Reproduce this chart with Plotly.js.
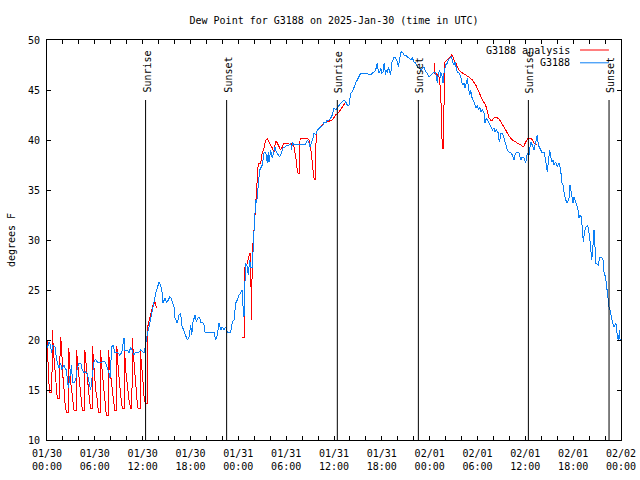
<!DOCTYPE html>
<html><head><meta charset="utf-8">
<script src="https://cdn.plot.ly/plotly-3.0.1.min.js"></script>
<style>html,body{margin:0;padding:0;background:#fff}#chart{width:640px;height:480px}
#chart path.js-line{shape-rendering:crispEdges}</style>
</head><body><div id="chart"></div>
<script>
const startTime = '2025-01-30T00:00:00Z';

// G3188 observations: hours after 01/30 00:00 UTC, dew point (F)
const blueHours = [
0.04,0.25,0.46,0.54,0.75,1.0,1.09,1.29,1.51,1.72,
1.84,2.13,2.26,2.42,2.55,2.67,2.85,2.97,3.1,3.17,
3.39,3.6,3.8,4.01,4.23,4.43,4.64,4.85,5.06,5.27,
5.48,5.68,5.9,6.1,6.31,6.52,6.74,6.94,7.15,7.36,
7.56,7.78,7.9,8.12,8.28,8.53,8.7,8.95,9.12,9.37,
9.66,9.78,10.07,10.29,10.5,10.7,10.91,11.13,11.54,11.75,
11.95,12.17,12.29,12.46,12.63,12.79,13.0,13.21,13.42,13.64,
13.84,14.05,14.26,14.46,14.55,14.8,14.97,15.22,15.39,15.59,
15.72,15.93,16.06,16.34,16.56,16.77,16.9,17.1,17.31,17.6,
17.81,18.03,18.15,18.31,18.57,18.73,18.98,19.15,19.28,19.48,
19.69,19.82,20.32,20.95,21.16,21.36,21.58,21.79,21.99,22.2,
22.42,22.62,23.04,23.24,23.46,23.67,23.87,24.08,24.29,24.5,
24.59,24.71,24.8,24.92,25.13,25.25,25.42,25.55,25.75,25.84,
25.97,26.09,26.18,26.3,26.43,26.59,26.68,26.8,27.01,27.22,
27.43,27.63,27.76,27.85,28.06,28.26,28.47,28.6,28.76,29.01,
29.19,29.44,29.6,29.86,30.14,30.36,30.57,30.69,30.77,30.98,
31.2,32.03,32.45,32.65,32.86,32.99,33.2,33.37,33.49,33.7,
33.91,34.12,34.33,34.62,34.75,34.96,35.16,35.37,35.59,35.79,
36.0,36.22,36.41,36.63,36.84,37.04,37.26,37.47,37.67,37.88,
37.97,38.1,38.3,38.51,38.72,38.92,39.14,39.35,39.98,40.39,
40.6,40.81,41.02,41.23,41.36,41.43,41.56,41.73,41.86,41.98,
42.16,42.29,42.48,42.56,42.69,42.81,42.99,43.11,43.24,43.4,
43.53,43.74,43.94,44.07,44.24,44.37,44.49,44.66,44.78,45.0,
45.2,45.41,45.63,45.83,46.04,46.25,46.45,46.66,46.88,47.08,
47.29,47.5,47.7,47.92,48.13,48.33,48.55,48.76,48.96,49.09,
49.27,49.38,49.5,49.67,49.8,50.01,50.21,50.34,50.51,50.64,
50.76,50.84,51.05,51.17,51.34,51.47,51.68,51.9,52.02,52.19,
52.32,52.44,52.6,52.73,52.85,53.03,53.15,53.28,53.44,53.57,
53.78,53.99,54.11,54.29,54.41,54.62,54.83,54.95,55.12,55.23,
55.44,55.66,55.86,56.07,56.19,56.36,56.61,56.69,56.78,56.9,
57.11,57.32,57.54,57.74,57.95,58.17,58.37,58.58,58.71,58.87,
59.0,59.21,59.42,59.62,59.84,60.05,60.26,60.47,60.67,60.87,
61.09,61.3,61.5,61.63,61.8,62.05,62.34,62.55,62.75,62.88,
63.06,63.19,63.31,63.48,63.59,63.81,64.01,64.23,64.44,64.56,
64.73,64.85,65.06,65.27,65.48,65.6,65.82,65.98,66.11,66.23,
66.4,66.57,66.73,66.86,67.03,67.15,67.28,67.4,67.58,67.78,
67.9,68.08,68.2,68.33,68.49,68.61,68.74,68.82,69.15,69.33,
69.58,69.74,69.87,70.08,70.21,70.33,70.5,70.62,70.79,70.92,
71.14,71.35,71.47,71.55,71.67,71.82,71.88
];
const blueDewPoint = [
19.2,19.8,19.5,18.7,19.5,19.3,18.7,17.7,17.2,17.7,
17.0,17.5,17.2,17.0,16.2,15.2,16.2,16.7,17.5,15.8,
15.7,16.0,17.2,17.7,17.7,17.0,16.7,16.8,16.7,15.8,
15.0,16.5,17.8,18.1,17.8,17.8,17.7,17.8,17.9,17.7,
17.3,16.7,16.2,19.3,19.5,18.7,18.8,18.7,18.5,18.7,
20.2,19.0,19.0,18.7,19.3,18.8,18.5,18.8,18.8,19.0,
18.8,18.7,19.2,20.3,20.8,21.3,22.2,23.2,23.7,24.7,
25.2,25.8,25.5,24.7,23.7,24.2,23.8,24.0,24.3,24.2,
23.8,23.3,22.2,21.7,22.5,22.7,21.5,21.0,20.7,20.0,
20.3,21.5,20.5,21.8,22.5,21.8,22.3,22.2,21.8,21.8,
21.5,20.8,20.8,20.8,20.0,20.5,21.7,21.0,21.3,21.0,
21.3,20.8,20.8,21.8,22.0,23.7,24.0,24.5,24.7,25.0,
23.3,22.3,25.0,27.7,27.3,26.5,28.0,27.3,27.3,29.7,
31.0,32.7,34.0,33.7,35.3,36.3,37.0,37.2,37.5,38.7,
38.8,37.7,38.8,37.8,39.0,38.2,39.0,39.3,38.8,38.5,
38.3,38.8,39.2,39.3,39.5,39.5,39.7,39.0,39.8,39.5,
39.6,39.6,39.6,40.0,39.7,39.3,39.7,40.2,40.7,40.5,
41.0,41.2,41.3,41.5,41.8,41.7,42.0,42.0,42.2,42.5,
43.2,43.0,43.2,43.5,43.7,43.8,44.0,43.8,43.5,43.5,
44.0,44.7,44.8,45.3,45.7,46.0,46.3,46.7,46.7,46.6,
46.5,46.7,46.8,47.0,47.5,47.7,46.8,46.7,47.2,46.7,
46.8,47.7,46.5,47.0,46.7,47.3,46.8,46.5,47.7,48.0,
48.3,48.2,47.8,47.3,48.3,48.7,48.8,48.7,48.5,48.5,
48.3,48.2,48.0,48.2,47.8,47.7,47.3,47.2,47.0,47.2,
47.3,46.8,46.7,46.3,46.5,46.7,46.8,46.7,45.7,46.7,
47.0,46.2,46.7,45.7,46.7,47.5,47.7,48.0,48.2,48.3,
48.4,47.8,47.5,47.8,47.3,46.8,46.7,46.3,45.8,45.5,
45.7,45.2,45.7,46.2,45.3,44.5,45.0,44.3,44.0,43.8,
43.2,43.5,43.0,43.3,42.8,43.0,42.7,41.7,42.2,42.0,
41.8,41.3,41.0,41.2,40.8,41.0,40.7,40.0,39.8,40.7,
40.7,40.2,39.5,39.0,38.8,38.7,38.5,38.0,38.5,38.8,
38.8,38.7,38.0,38.3,38.2,37.7,38.7,38.5,39.8,39.5,
39.0,40.0,40.5,39.5,39.2,38.8,38.8,38.0,36.8,37.7,
39.0,38.3,37.8,38.0,37.5,37.8,37.3,37.7,37.0,35.8,
35.5,34.8,34.0,33.7,34.2,35.5,34.2,33.7,34.3,34.0,
33.5,33.2,32.2,32.5,32.3,31.3,29.8,30.7,31.3,31.4,
31.2,30.2,28.8,28.0,29.5,31.0,29.3,27.7,27.5,28.3,
28.3,28.0,26.8,26.2,25.3,24.2,23.3,23.0,22.3,21.8,
21.3,21.7,21.0,20.2,20.0,21.0,20.0
];

// G3188 analysis: hours after 01/30 00:00 UTC, dew point (F); null = no data
const redHours = [
0.00,0.30,0.62,0.65,0.88,1.09,1.29,1.62,1.64,1.85,
1.92,2.12,2.24,2.42,2.67,2.69,2.82,2.94,3.18,3.39,
3.68,3.70,3.93,4.10,4.31,4.43,4.73,4.75,4.94,5.15,
5.36,5.48,5.68,5.70,5.89,6.10,6.31,6.44,6.69,6.71,
6.94,7.15,7.28,7.44,7.70,7.72,7.86,8.11,8.28,8.49,
8.74,8.76,8.95,9.12,9.28,9.45,9.70,9.72,9.87,10.08,
10.29,10.50,10.66,10.68,10.87,11.08,11.29,11.42,11.67,11.70,
11.83,12.00,12.13,12.20,12.35,12.55,12.57,12.68,12.90,13.10,
13.30,13.45,13.60,13.72,18.00,
24.46,24.74,24.77,24.92,25.13,25.42,25.55,25.63,25.70,25.80,
25.88,25.97,26.18,26.25,26.38,26.50,26.80,27.00,27.22,27.43,
27.63,27.85,28.06,28.26,28.47,28.69,28.89,29.10,29.31,29.52,
29.73,30.14,30.57,30.77,30.98,31.10,31.27,31.40,31.61,31.70,
31.74,32.65,32.86,33.08,33.20,33.37,33.49,33.62,33.70,33.78,
33.91,34.33,34.75,35.16,35.79,36.20,36.63,37.04,37.47,42.00,
48.55,48.60,48.76,49.17,49.38,49.50,49.58,49.71,49.80,49.89,
50.21,50.42,50.76,50.93,51.05,51.27,51.47,51.68,52.10,52.52,
52.93,53.35,53.78,54.19,54.60,55.02,55.23,55.44,55.66,55.86,
56.07,56.28,56.70,57.12,57.54,57.95,58.37,58.79,59.20,59.62,
59.83,60.04,60.37,60.67,60.87,61.09,61.50
];
const redDewPoint = [
20.0,14.8,14.8,21.0,18.2,16.0,14.2,14.2,20.3,19.5,
17.0,15.3,13.8,12.8,12.8,19.2,18.5,16.0,14.3,13.0,
13.0,19.0,17.0,15.5,14.0,13.0,13.0,19.0,17.3,15.3,
13.7,13.2,13.2,19.4,16.7,15.0,14.0,12.8,12.8,19.0,
16.7,15.0,13.7,12.5,12.5,19.0,17.3,15.7,14.0,13.0,
13.0,19.4,17.0,15.3,14.2,13.2,13.2,19.2,17.0,15.5,
14.0,13.2,13.2,20.2,18.0,15.7,14.0,13.2,13.2,19.0,
18.0,16.3,15.0,14.0,13.7,13.7,21.0,21.5,22.2,23.0,
23.5,23.7,23.8,23.2,null,
20.3,20.3,27.2,27.3,27.7,28.7,28.7,22.0,25.7,28.7,
30.7,31.0,34.0,35.0,37.0,37.7,37.7,38.7,39.2,40.0,
40.1,39.8,39.5,39.2,38.8,39.9,39.7,39.3,39.0,39.3,
39.7,39.7,39.5,39.7,39.3,38.7,38.0,36.8,36.6,38.0,
40.2,40.2,40.0,39.2,38.0,37.0,36.2,36.0,38.5,40.7,
41.0,41.3,41.7,41.8,42.0,42.5,42.8,43.3,43.8,null,
47.7,46.7,46.7,46.3,45.0,40.0,39.2,39.2,44.0,47.8,
48.0,48.2,48.5,48.3,48.0,47.7,47.3,47.0,46.7,46.5,
46.3,46.0,45.5,44.8,44.0,43.5,42.8,42.2,42.0,42.0,
42.2,42.3,42.1,41.6,41.0,40.4,40.0,39.8,39.6,39.4,
39.4,39.8,40.2,40.2,40.0,39.7,39.5
];

const sunLabels = ['Sunrise','Sunset','Sunrise','Sunset','Sunrise','Sunset'];
const sunTimes = ['2025-01-30 12:22','2025-01-30 22:32','2025-01-31 12:25',
                  '2025-01-31 22:35','2025-02-01 12:23','2025-02-01 22:30'];

const xTickVals = ['2025-01-30 00:00','2025-01-30 06:00','2025-01-30 12:00','2025-01-30 18:00',
                   '2025-01-31 00:00','2025-01-31 06:00','2025-01-31 12:00','2025-01-31 18:00',
                   '2025-02-01 00:00','2025-02-01 06:00','2025-02-01 12:00','2025-02-01 18:00',
                   '2025-02-02 00:00'];
const xTickText = ['01/30<br>00:00','01/30<br>06:00','01/30<br>12:00','01/30<br>18:00',
                   '01/31<br>00:00','01/31<br>06:00','01/31<br>12:00','01/31<br>18:00',
                   '02/01<br>00:00','02/01<br>06:00','02/01<br>12:00','02/01<br>18:00',
                   '02/02<br>00:00'];
const yTickVals = [10,15,20,25,30,35,40,45,50];

const seriesNames = ['G3188 analysis','G3188'];
const seriesColors = ['#ff0000','#0a7ff5'];

const t0 = Date.parse(startTime);
function toDate(h){
  const d = new Date(t0 + h*3600000);
  return d.toISOString().slice(0,19).replace('T',' ');
}

const FONT = 'DejaVu Sans Mono, Liberation Mono, monospace';

const traces = [
  {x: redHours.map(toDate), y: redDewPoint, type:'scatter', mode:'lines',
   name: seriesNames[0], line:{color:seriesColors[0], width:1}, connectgaps:false, hoverinfo:'skip'},
  {x: blueHours.map(toDate), y: blueDewPoint, type:'scatter', mode:'lines',
   name: seriesNames[1], line:{color:seriesColors[1], width:1}, hoverinfo:'skip'}
];

const shapes = sunTimes.map(t => ({type:'line', xref:'x', yref:'y', x0:t, x1:t, y0:10, y1:44,
  line:{color:'#000', width:1}}));
const annotations = sunTimes.map((t,i) => ({x:t, y:44.5, xref:'x', yref:'y', text:sunLabels[i],
  textangle:-90, showarrow:false, xanchor:'center', yanchor:'bottom', xshift:1,
  font:{family:FONT, size:10, color:'#000'}}));

// legend (text right-aligned, sample line on the right, like the original)
const legY = [0.975, 0.943];
seriesNames.forEach((n,i) => {
  annotations.push({xref:'paper', yref:'paper', x:0.9146, y:legY[i], text:n, showarrow:false,
    xanchor:'right', yanchor:'middle', font:{family:FONT, size:10, color:'#000'}});
  shapes.push({type:'line', xref:'paper', yref:'paper', x0:0.9286, x1:0.979, y0:legY[i], y1:legY[i],
    line:{color:seriesColors[i], width:1}});
});

const layout = {
  width:640, height:480,
  margin:{l:47, r:19, t:40, b:40},
  paper_bgcolor:'#fff', plot_bgcolor:'#fff',
  font:{family:FONT, size:10, color:'#000'},
  showlegend:false,
  title:{text:'Dew Point for G3188 on 2025-Jan-30 (time in UTC)', xref:'paper', x:0.5, xanchor:'center',
         yref:'container', y:0.958, yanchor:'middle', font:{family:FONT, size:10, color:'#000'}},
  xaxis:{type:'date', range:['2025-01-30 00:00','2025-02-02 00:00'],
         tickmode:'array', tickvals:xTickVals, ticktext:xTickText,
         ticks:'inside', ticklen:4, tickcolor:'#000', tickwidth:1, ticklabelstandoff:4,
         minor:{tickmode:'linear', tick0:'2025-01-30 00:00', dtick:7200000, ticks:'inside', ticklen:4, tickcolor:'#000'},
         showline:true, linecolor:'#000', linewidth:1, mirror:'ticks',
         showgrid:false, zeroline:false, tickfont:{family:FONT, size:10, color:'#000'}},
  yaxis:{range:[10,50], tickmode:'array', tickvals:yTickVals,
         ticks:'inside', ticklen:4, tickcolor:'#000', tickwidth:1,
         showline:true, linecolor:'#000', linewidth:1, mirror:'ticks',
         showgrid:false, zeroline:false, ticklabelstandoff:4,
         tickfont:{family:FONT, size:10, color:'#000'},
         title:{text:'degrees F', standoff:10, font:{family:FONT, size:10, color:'#000'}}},
  shapes: shapes,
  annotations: annotations
};

Plotly.newPlot('chart', traces, layout, {staticPlot:true, displayModeBar:false});
</script>
</body></html>
